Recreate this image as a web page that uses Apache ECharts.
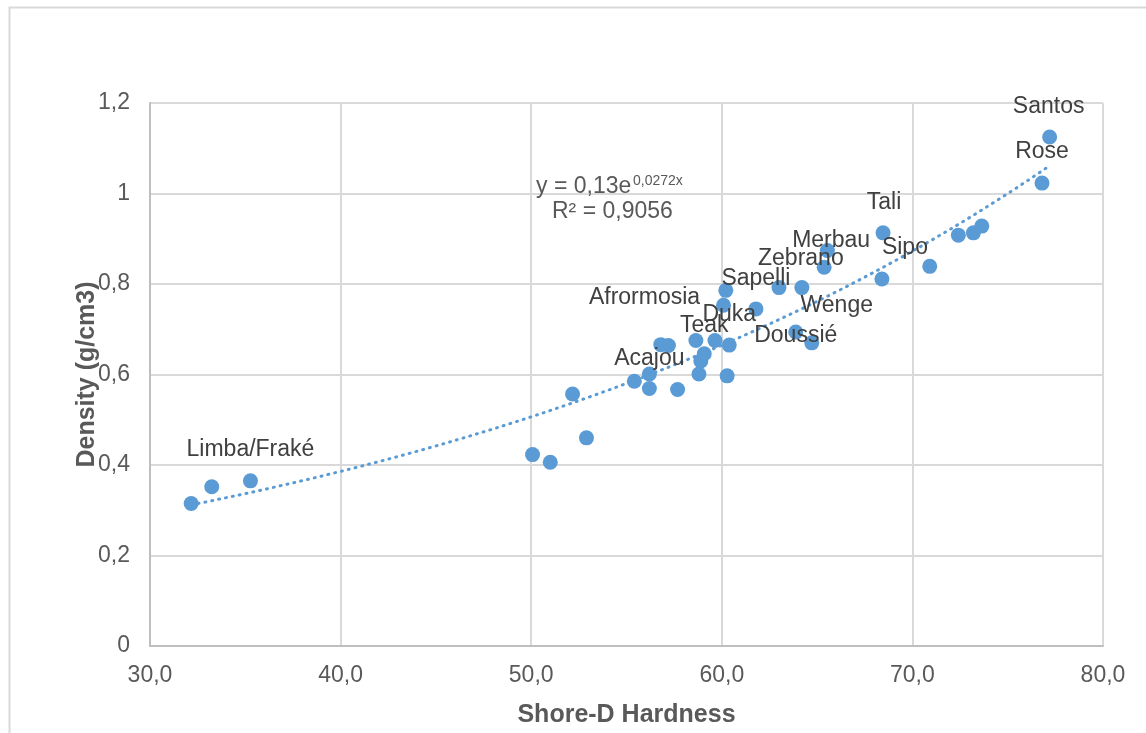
<!DOCTYPE html>
<html>
<head>
<meta charset="utf-8">
<script src="https://cdn.jsdelivr.net/npm/echarts@6/dist/echarts.min.js"></script>
<style>
  html, body { margin: 0; padding: 0; background: #ffffff; }
  #chart { width: 1146px; height: 733px; }
</style>
</head>
<body>
<div id="chart"></div>
<script>
// ---- Data ----
const hardness = [32.16, 33.24, 35.27, 50.07, 51.0, 52.9, 52.17, 55.41, 56.2, 56.2,
  57.68, 56.8, 57.2, 58.64, 59.64, 60.39, 59.08, 58.9, 58.8, 60.28,
  60.09, 60.21, 61.79, 63.0, 64.2, 65.37, 65.54, 63.88, 64.72, 68.46,
  68.4, 70.91, 72.41, 73.2, 73.64, 76.8, 77.2];
const density = [0.315, 0.352, 0.365, 0.423, 0.406, 0.460, 0.557, 0.585, 0.601, 0.569,
  0.567, 0.666, 0.664, 0.675, 0.675, 0.665, 0.646, 0.630, 0.601, 0.597,
  0.753, 0.786, 0.745, 0.792, 0.792, 0.837, 0.874, 0.694, 0.670, 0.913,
  0.811, 0.839, 0.908, 0.913, 0.928, 1.023, 1.125];
const woodNames = ['', '', 'Limba/Fraké', '', '', '', '', '', '', 'Acajou',
  '', '', '', '', '', 'Duka', 'Teak', '', '', '',
  'Afrormosia', '', 'Sapelli', '', 'Zebrano', 'Merbau', '', 'Doussié', 'Wenge', 'Tali',
  'Sipo', '', '', '', '', 'Rose', 'Santos'];
// Trendline as stated on the chart: y = a * e^(b x)
const trendA = 0.13;
const trendB = 0.0272;
const trendText = ['y = 0,13e', '0,0272x', 'R² = 0,9056'];
const xTicks = { min: 30, max: 80, interval: 10 };
const yTicks = { min: 0, max: 1.2, interval: 0.2 };

// ---- Styling (label placement relative to the marker centre) ----
const labelOffsets = {
  'Limba/Fraké': [0, -31], 'Acajou': [0, -30], 'Teak': [0, -28], 'Duka': [0, -30],
  'Afrormosia': [-79, -8], 'Sapelli': [0, -30], 'Zebrano': [-1, -29], 'Merbau': [7, -27],
  'Tali': [1, -30], 'Sipo': [23, -31], 'Wenge': [25, -37], 'Doussié': [0, 4],
  'Santos': [-1, -30], 'Rose': [0, -31]
};

const BLUE = '#5B9BD5';
const FONT = '"Liberation Sans", Arial, sans-serif';
const SYM = 15;

const scatterData = hardness.map((x, i) => {
  const nm = woodNames[i];
  const off = labelOffsets[nm] || [0, -30];
  return {
    value: [x, density[i]],
    name: nm,
    label: nm
      ? { show: true, position: [SYM / 2 + off[0], SYM / 2 + off[1]], align: 'center', verticalAlign: 'middle' }
      : { show: false }
  };
});

const xMin = Math.min(...hardness), xMax = Math.max(...hardness);
const trendData = [];
const steps = 80;
for (let k = 0; k <= steps; k++) {
  const x = xMin + (xMax - xMin) * k / steps;
  trendData.push([x, trendA * Math.exp(trendB * x)]);
}

const fmtComma = (v, dec) => {
  let s = dec == null ? String(Math.round(v * 10) / 10) : v.toFixed(dec);
  return s.replace('.', ',');
};

const chart = echarts.init(document.getElementById('chart'), null, { renderer: 'canvas' });
chart.setOption({
  animation: false,
  backgroundColor: '#ffffff',
  textStyle: { fontFamily: FONT },
  grid: { left: 150, top: 103, right: 43, bottom: 82.5, containLabel: false },
  xAxis: {
    type: 'value', min: xTicks.min, max: xTicks.max, interval: xTicks.interval,
    name: 'Shore-D Hardness', nameLocation: 'middle', nameGap: 57, nameMoveOverlap: false,
    nameTextStyle: { color: '#595959', fontSize: 25, fontWeight: 'bold', fontFamily: FONT },
    axisLine: { show: true, lineStyle: { color: '#bfbfbf', width: 2 } },
    axisTick: { show: false },
    axisLabel: { color: '#595959', fontSize: 23, margin: 18, fontFamily: FONT,
      formatter: v => fmtComma(v, 1) },
    splitLine: { show: true, lineStyle: { color: '#d9d9d9', width: 2 } }
  },
  yAxis: {
    type: 'value', min: yTicks.min, max: yTicks.max, interval: yTicks.interval,
    name: 'Density (g/cm3)', nameLocation: 'middle', nameGap: 50, nameRotate: 90, nameMoveOverlap: false,
    nameTextStyle: { color: '#595959', fontSize: 25, fontWeight: 'bold', fontFamily: FONT },
    axisLine: { show: true, lineStyle: { color: '#bfbfbf', width: 2 } },
    axisTick: { show: false },
    axisLabel: { color: '#595959', fontSize: 23, margin: 20, fontFamily: FONT,
      formatter: v => fmtComma(v) },
    splitLine: { show: true, lineStyle: { color: '#d9d9d9', width: 2 } }
  },
  series: [
    {
      type: 'line', data: trendData, showSymbol: false, smooth: false, z: 1,
      lineStyle: { color: BLUE, width: 3, type: [1, 6], cap: 'round' },
      silent: true
    },
    {
      type: 'scatter', data: scatterData, symbol: 'circle', symbolSize: SYM, z: 3,
      itemStyle: { color: BLUE, opacity: 1 },
      label: {
        formatter: '{b}', color: '#404040', fontSize: 23, fontFamily: FONT
      }
    }
  ],
  graphic: [
    { type: 'rect', left: 7, top: 5, z: -10, silent: true,
      shape: { width: 1200, height: 800 },
      style: { fill: 'none', stroke: '#d9d9d9', lineWidth: 2 } },
    { type: 'text', left: 536, top: 175, z: 10,
      style: { text: trendText[0], fontSize: 23, fontFamily: FONT, fill: '#595959' } },
    { type: 'text', left: 633, top: 174, z: 10,
      style: { text: trendText[1], fontSize: 14, fontFamily: FONT, fill: '#595959' } },
    { type: 'text', left: 552, top: 200, z: 10,
      style: { text: trendText[2], fontSize: 23, fontFamily: FONT, fill: '#595959' } }
  ]
});
</script>
</body>
</html>
